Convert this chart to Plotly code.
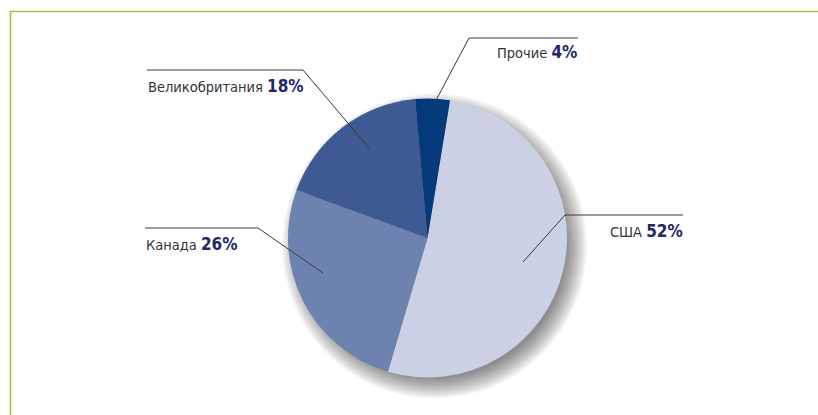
import plotly.graph_objects as go

# Export structure by country, percent
countries = ["США", "Канада", "Великобритания", "Прочие"]
shares = [52, 26, 18, 4]
colors = ["#CBD0E4", "#6E82B0", "#3D5A93", "#053A7A"]

W, H = 818, 415
CX, CY, R = 427.5, 238.0, 139.5

fig = go.Figure()

fig.add_trace(go.Pie(
    labels=countries,
    values=shares,
    sort=False,
    direction="clockwise",
    rotation=9.3,
    marker=dict(colors=colors, line=dict(width=0)),
    textinfo="none",
    hoverinfo="label+percent",
    showlegend=False,
    domain=dict(x=[(CX - R) / W, (CX + R) / W],
                y=[1 - (CY + R) / H, 1 - (CY - R) / H]),
))

# soft drop shadow under the pie
shapes = []
for k in range(14):
    r = R + 13 - k * 1.6
    ox, oy = 7, 8
    shapes.append(dict(type="circle", xref="x", yref="y", layer="below",
                       x0=CX + ox - r, x1=CX + ox + r,
                       y0=CY + oy - r, y1=CY + oy + r,
                       fillcolor="rgba(0,0,0,0.04)", line=dict(width=0)))

# green frame
shapes.append(dict(type="path", xref="x", yref="y", layer="above",
                   path="M 10.5 420 L 10.5 11.5 L 830 11.5",
                   line=dict(color="#A6C43A", width=1.6)))

# leader lines: (elbow, inner point, outer end)
leaders = [
    ((469, 38), (433, 106), (578, 38)),
    ((303, 70), (369, 148), (147, 70)),
    ((258, 228), (323, 273), (145, 228)),
    ((565, 215), (523, 262), (683, 215)),
]
for (ex, ey), (ix, iy), (ox_, oy_) in leaders:
    shapes.append(dict(type="path", xref="x", yref="y", layer="above",
                       path=f"M {ox_} {oy_} L {ex} {ey} L {ix} {iy}",
                       line=dict(color="#3a3a3a", width=1)))

FONT = "Liberation Sans Narrow, DejaVu Sans Condensed, Arial Narrow, sans-serif"


def label(name, val):
    return (f"{name} <b><span style='font-size:17px;color:#232769'>"
            f"{val}%</span></b>")


ann_pos = {
    "Прочие": (579, 52, "right"),
    "Великобритания": (146, 86, "left"),
    "Канада": (144, 244, "left"),
    "США": (685, 231, "right"),
}
annotations = []
for name, val in zip(countries, shares):
    x, y, anchor = ann_pos[name]
    annotations.append(dict(x=x, y=y, xref="x", yref="y", xanchor=anchor,
                            yanchor="middle", showarrow=False,
                            text=label(name, val),
                            font=dict(family=FONT, size=14.5, color="#333333")))

fig.update_layout(
    width=W, height=H,
    margin=dict(l=0, r=0, t=0, b=0),
    paper_bgcolor="white", plot_bgcolor="white",
    xaxis=dict(range=[0, W], visible=False, fixedrange=True),
    yaxis=dict(range=[H, 0], visible=False, fixedrange=True),
    shapes=shapes,
    annotations=annotations,
)

fig.write_html("out.html")
